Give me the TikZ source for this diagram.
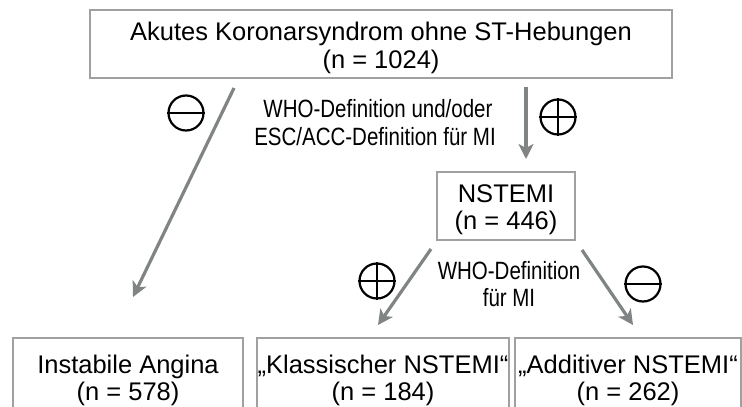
\documentclass[tikz,border=0pt]{standalone}
\usepackage{fontspec}
\setmainfont{Liberation Sans}
\newfontfamily\narrowfont[FakeStretch=0.82]{Liberation Sans}
\usetikzlibrary{arrows.meta}
\definecolor{linegray}{RGB}{128,132,132}
\definecolor{boxgray}{RGB}{160,160,160}
\begin{document}
\begin{tikzpicture}[x=1pt,y=-1pt,
  box/.style={draw=boxgray, line width=1.3pt, inner sep=0pt},
  txt/.style={font=\fontsize{25.5}{28}\selectfont, anchor=base, inner sep=0pt},
  lbl/.style={font=\narrowfont\fontsize{25}{28}\selectfont, anchor=base, inner sep=0pt},
  flow/.style={draw=linegray, line width=3.2pt, -{Stealth[length=15pt,width=15pt,inset=4pt]}},
  sign/.style={circle, draw=black, line width=2.2pt, minimum size=35pt, inner sep=0pt},
  bar/.style={draw=black, line width=2.2pt}]
\useasboundingbox (0,0) rectangle (742,407);
\clip (0,0) rectangle (742,407);
\fill[white] (0,0) rectangle (742,407);

% boxes
\node[box, minimum width=582pt, minimum height=68pt] (top) at (381,44) {};
\node[box, minimum width=138pt, minimum height=68pt] (nst) at (506,206) {};
\node[box, minimum width=230pt, minimum height=102pt] (ia) at (128,389) {};
\node[box, minimum width=252pt, minimum height=102pt] (kn) at (383,389) {};
\node[box, minimum width=226pt, minimum height=102pt] (an) at (628,389) {};

% texts
\node[txt] (t1a) at (381,40) {Akutes Koronarsyndrom ohne ST-Hebungen};
\node[txt] (t1b) at (381,68) {(n = 1024)};
\node[txt] (n1a) at (506,202) {NSTEMI};
\node[txt] (n1b) at (506,229) {(n = 446)};
\node[txt] (b1a) at (128,373) {Instabile Angina};
\node[txt] (b1b) at (128,400) {(n = 578)};
\node[txt] (b2a) at (383,373) {„Klassischer NSTEMI“};
\node[txt] (b2b) at (383,400) {(n = 184)};
\node[txt] (b3a) at (628,373) {„Additiver NSTEMI“};
\node[txt] (b3b) at (628,400) {(n = 262)};

% labels
\node[lbl] (l1a) at (378,117) {WHO-Definition und/oder};
\node[lbl] (l1b) at (375,145) {ESC/ACC-Definition für MI};
\node[lbl] (l2a) at (509,279) {WHO-Definition};
\node[lbl] (l2b) at (509,306) {für MI};

% arrows
\coordinate (s1) at (234,88);  \coordinate (e1) at (133,297);
\coordinate (s2) at (526,87);  \coordinate (e2) at (526,159);
\coordinate (s3) at (431,249); \coordinate (e3) at (378,325);
\coordinate (s4) at (582,250); \coordinate (e4) at (633,325);
\draw[flow] (s1) -- (e1);
\draw[flow] (s2) -- (e2);
\draw[flow] (s3) -- (e3);
\draw[flow] (s4) -- (e4);

% signs
\node[sign] (m1) at (186,113) {};
\draw[bar] (m1.west) -- (m1.east);
\node[sign] (p1) at (558,117) {};
\draw[bar] (p1.west) -- (p1.east) (p1.north) -- (p1.south);
\node[sign] (p2) at (377,281) {};
\draw[bar] (p2.west) -- (p2.east) (p2.north) -- (p2.south);
\node[sign] (m2) at (643,284) {};
\draw[bar] (m2.west) -- (m2.east);
\end{tikzpicture}
\end{document}
